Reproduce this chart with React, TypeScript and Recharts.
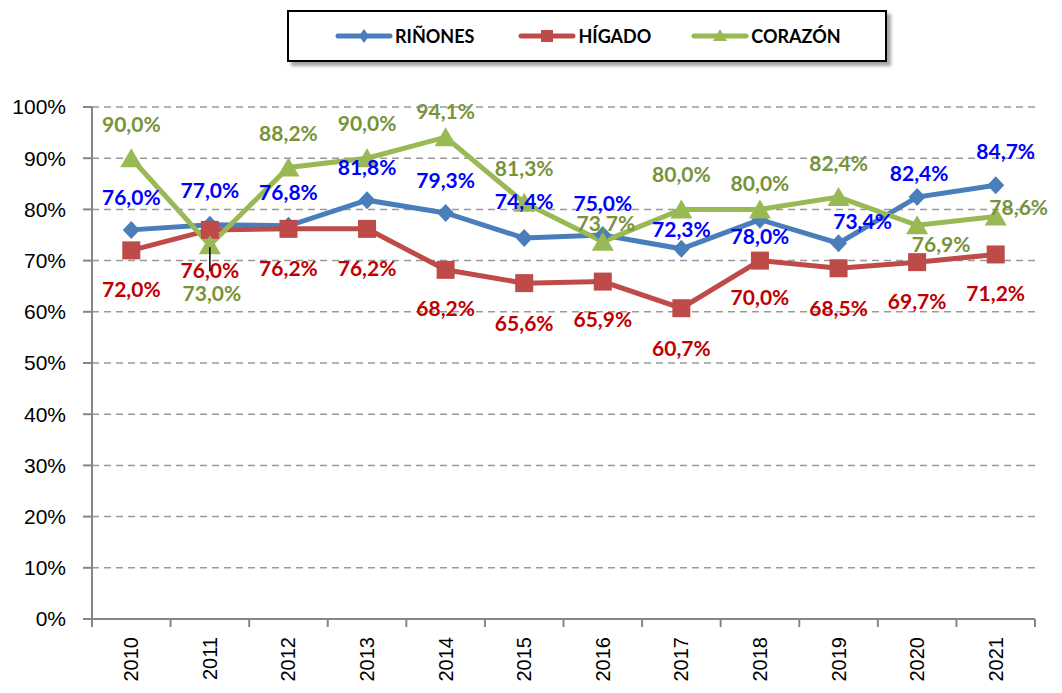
import { CartesianGrid, Line, LineChart, XAxis, YAxis } from "recharts"

const years = ["2010", "2011", "2012", "2013", "2014", "2015", "2016", "2017", "2018", "2019", "2020", "2021"]
const rinones = [76.0, 77.0, 76.8, 81.8, 79.3, 74.4, 75.0, 72.3, 78.0, 73.4, 82.4, 84.7]
const higado = [72.0, 76.0, 76.2, 76.2, 68.2, 65.6, 65.9, 60.7, 70.0, 68.5, 69.7, 71.2]
const corazon = [90.0, 73.0, 88.2, 90.0, 94.1, 81.3, 73.7, 80.0, 80.0, 82.4, 76.9, 78.6]
const yTicks = [0, 10, 20, 30, 40, 50, 60, 70, 80, 90, 100]

// label centre offsets from each point
const rinonesLabelPos = [[0, -33], [0, -35], [0, -34], [0, -34], [0, -33], [0, -38], [0, -33], [0, -20], [0, 16], [24, -23], [2, -25], [10, -35]]
const higadoLabelPos = [[0, 38], [0, 40], [0, 39], [0, 39], [0, 38], [0, 39], [0, 37], [0, 39], [0, 36], [0, 39], [0, 38], [0, 38]]
const corazonLabelPos = [[0, -35], [2, 47], [0, -35], [0, -36], [0, -27], [0, -35], [3, -19], [0, -36], [0, -27], [0, -35], [24, 18], [23, -10]]

const data = years.map((year, i) => ({
  year,
  rinones: rinones[i],
  higado: higado[i],
  corazon: corazon[i],
}))

const W = 1062
const H = 693
const M = { top: 107, right: 27, bottom: 0, left: 0 }
const Y_W = 92
const X_H = 74
const BAND = (W - M.left - M.right - Y_W) / years.length

const BLUE = "#4A7EBB"
const RED = "#BE4B48"
const GREEN = "#98B954"
const LABEL_FONT = "Lato, 'Open Sans', sans-serif"
const AXIS_FONT = "'Liberation Sans', Arial, sans-serif"

const fmt = (v: number) => v.toFixed(1).replace(".", ",") + "%"

function makeLabel(pos: number[][], color: string, leaderAt?: number) {
  return (props: any) => {
    const { x, y, index, value } = props
    const [dx, dy] = pos[index] || [0, 0]
    return (
      <g>
        {leaderAt === index && (
          <line x1={x} y1={y + 2} x2={x} y2={y + dy - 21} stroke="#000" strokeWidth={1.5} />
        )}
        <text
          x={x + dx}
          y={y + dy}
          textAnchor="middle"
          dominantBaseline="central"
          fill={color}
          fontFamily={LABEL_FONT}
          fontWeight={700}
          fontSize={21}
        >
          {fmt(value)}
        </text>
      </g>
    )
  }
}

const Diamond = (props: any) => {
  const { cx, cy } = props
  if (cx == null || cy == null) return null
  return <path d={`M${cx},${cy - 9} L${cx + 8.5},${cy} L${cx},${cy + 9} L${cx - 8.5},${cy} Z`} fill={BLUE} />
}

const Square = (props: any) => {
  const { cx, cy } = props
  if (cx == null || cy == null) return null
  return <rect x={cx - 9} y={cy - 9} width={18} height={18} fill={RED} />
}

const Triangle = (props: any) => {
  const { cx, cy } = props
  if (cx == null || cy == null) return null
  return <path d={`M${cx},${cy - 10} L${cx + 11},${cy + 9} L${cx - 11},${cy + 9} Z`} fill={GREEN} />
}

const YearTick = (props: any) => {
  const { x, y, payload, index } = props
  const axisY = y - 8
  return (
    <g>
      <line x1={x - BAND / 2} y1={axisY} x2={x - BAND / 2} y2={axisY + 8} stroke="#868686" strokeWidth={2} />
      {index === years.length - 1 && (
        <line x1={x + BAND / 2} y1={axisY} x2={x + BAND / 2} y2={axisY + 8} stroke="#868686" strokeWidth={2} />
      )}
      <text
        transform={`translate(${x + 7},${axisY + 18}) rotate(-90)`}
        textAnchor="end"
        fill="#000"
        fontFamily={AXIS_FONT}
        fontSize={20}
      >
        {payload.value}
      </text>
    </g>
  )
}

const legendItems = [
  { name: "RIÑONES", color: BLUE, marker: "diamond" },
  { name: "HÍGADO", color: RED, marker: "square" },
  { name: "CORAZÓN", color: GREEN, marker: "triangle" },
]

function LegendIcon({ color, marker }: { color: string; marker: string }) {
  return (
    <svg width={58} height={20} style={{ display: "block" }}>
      <line x1={3} y1={10} x2={55} y2={10} stroke={color} strokeWidth={5} strokeLinecap="round" />
      {marker === "diamond" && <path d="M29,3 L34,10 L29,17 L24,10 Z" fill={color} />}
      {marker === "square" && <rect x={23} y={4} width={12} height={12} fill={color} />}
      {marker === "triangle" && <path d="M29,3 L36,15 L22,15 Z" fill={color} />}
    </svg>
  )
}

const LegendBox = () => (
  <div
    style={{
      position: "absolute",
      left: 287,
      top: 10,
      width: 550,
      height: 48,
      border: "2px solid #000",
      background: "#fff",
      boxShadow: "4px 4px 3px rgba(0,0,0,0.35)",
      display: "flex",
      alignItems: "center",
      paddingLeft: 46,
      zIndex: 2,
    }}
  >
    {legendItems.map((it, i) => (
      <div key={it.name} style={{ display: "flex", alignItems: "center", marginRight: i === 0 ? 44 : 40 }}>
        <LegendIcon color={it.color} marker={it.marker} />
        <span style={{ fontFamily: LABEL_FONT, fontWeight: 700, fontSize: 18, color: "#000", marginLeft: 2 }}>
          {it.name}
        </span>
      </div>
    ))}
  </div>
)

export default function App() {
  return (
    <div style={{ position: "absolute", left: 0, top: 0, width: W, height: H, background: "#fff" }}>
      <LegendBox />
      <LineChart width={W} height={H} data={data} margin={M}>
        <CartesianGrid vertical={false} stroke="#999" strokeDasharray="7 5" strokeWidth={1.5} />
        <XAxis
          dataKey="year"
          height={X_H}
          padding={{ left: BAND / 2, right: BAND / 2 }}
          interval={0}
          axisLine={{ stroke: "#868686", strokeWidth: 2 }}
          tickLine={false}
          tick={<YearTick />}
        />
        <YAxis
          width={Y_W}
          domain={[0, 100]}
          ticks={yTicks}
          interval={0}
          tickFormatter={(v: number) => `${v}%`}
          axisLine={{ stroke: "#868686", strokeWidth: 2 }}
          tickLine={{ stroke: "#868686", strokeWidth: 2 }}
          tickSize={9}
          tickMargin={17}
          tick={{ fill: "#000", fontFamily: AXIS_FONT, fontSize: 21 }}
        />
        <Line
          dataKey="rinones"
          name="RIÑONES"
          stroke={BLUE}
          strokeWidth={5}
          dot={<Diamond />}
          activeDot={false}
          isAnimationActive={false}
          label={makeLabel(rinonesLabelPos, "#0000FF")}
        />
        <Line
          dataKey="higado"
          name="HÍGADO"
          stroke={RED}
          strokeWidth={5}
          dot={<Square />}
          activeDot={false}
          isAnimationActive={false}
          label={makeLabel(higadoLabelPos, "#C00000")}
        />
        <Line
          dataKey="corazon"
          name="CORAZÓN"
          stroke={GREEN}
          strokeWidth={5}
          dot={<Triangle />}
          activeDot={false}
          isAnimationActive={false}
          label={makeLabel(corazonLabelPos, "#77933C", 1)}
        />
      </LineChart>
    </div>
  )
}
